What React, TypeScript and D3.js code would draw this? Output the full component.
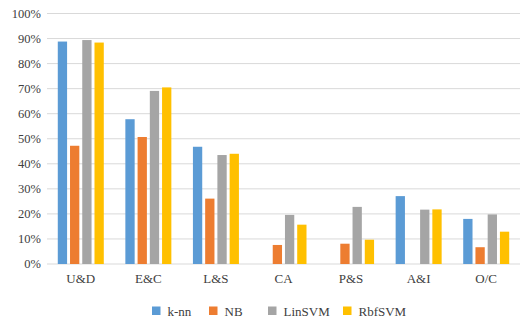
import React from "react";
import * as d3 from "d3";

const categories = ["U&D", "E&C", "L&S", "CA", "P&S", "A&I", "O/C"];
const seriesNames = ["k-nn", "NB", "LinSVM", "RbfSVM"];
const knn = [88.8, 57.8, 46.8, 0, 0, 27.1, 18.0];
const nb = [47.2, 50.7, 26.1, 7.6, 8.1, 0, 6.7];
const linSVM = [89.4, 69.1, 43.5, 19.6, 22.8, 21.7, 19.8];
const rbfSVM = [88.4, 70.5, 44.0, 15.7, 9.7, 21.8, 12.9];
const yTicks = [0, 10, 20, 30, 40, 50, 60, 70, 80, 90, 100];
const colors = ["#5B9BD5", "#ED7D31", "#A5A5A5", "#FFC000"];

const W = 526;
const H = 327;
const plotLeft = 47;
const plotRight = 520;
const plotTop = 13.5;
const plotBottom = 264;

export default function App() {
  const series = [knn, nb, linSVM, rbfSVM];
  const x0 = d3.scaleBand<string>().domain(categories).range([plotLeft, plotRight]).paddingInner(0).paddingOuter(0);
  const groupWidth = 46;
  const x1 = d3
    .scaleBand<string>()
    .domain(seriesNames)
    .range([(x0.bandwidth() - groupWidth) / 2, (x0.bandwidth() + groupWidth) / 2])
    .paddingInner(0.24)
    .paddingOuter(0);
  const y = d3.scaleLinear().domain([0, 100]).range([plotBottom, plotTop]);
  const font = "'Liberation Serif', 'Times New Roman', serif";

  const legendItems = [
    { x: 152, label: seriesNames[0] },
    { x: 209, label: seriesNames[1] },
    { x: 268, label: seriesNames[2] },
    { x: 343, label: seriesNames[3] },
  ];

  return (
    <svg
      width={W}
      height={H}
      style={{ position: "absolute", left: 0, top: 0, background: "#fff" }}
      fontFamily={font}
    >
      <rect x={0} y={0} width={W} height={H} fill="#fff" />
      {yTicks.map((t) => (
        <g key={t}>
          <line x1={plotLeft} x2={plotRight} y1={y(t)} y2={y(t)} stroke="#D9D9D9" strokeWidth={1} />
          <text x={41} y={y(t)} dy="0.35em" textAnchor="end" fontSize={12.5} fill="#404040">
            {t}%
          </text>
        </g>
      ))}
      {categories.map((c, ci) => (
        <g key={c} transform={`translate(${x0(c)},0)`}>
          {series.map((s, si) =>
            s[ci] > 0 ? (
              <rect
                key={si}
                x={x1(seriesNames[si])}
                y={y(s[ci])}
                width={x1.bandwidth()}
                height={y(0) - y(s[ci])}
                fill={colors[si]}
              />
            ) : null
          )}
          <text
            x={x0.bandwidth() / 2}
            y={283}
            textAnchor="middle"
            fontSize={13}
            fill="#404040"
          >
            {c}
          </text>
        </g>
      ))}
      {legendItems.map((l, i) => (
        <g key={l.label}>
          <rect x={l.x} y={306.5} width={8.5} height={8.5} fill={colors[i]} />
          <text x={l.x + 15.5} y={311} dy="0.35em" fontSize={13} fill="#404040">
            {l.label}
          </text>
        </g>
      ))}
    </svg>
  );
}
